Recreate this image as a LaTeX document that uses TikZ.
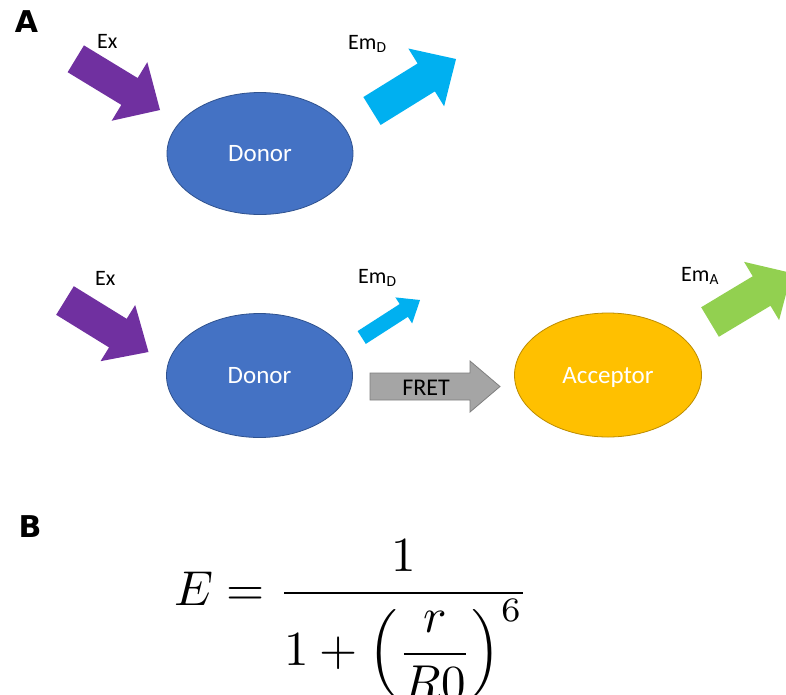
\documentclass[tikz,border=0pt]{standalone}
\usepackage{fontspec}
\usepackage{graphicx}
\setmainfont{Carlito}
\newfontfamily\labfont{DejaVu Sans}
\usetikzlibrary{calc,shapes.geometric}
\definecolor{donorblue}{HTML}{4472C4}
\definecolor{donorline}{HTML}{2F528F}
\definecolor{accyellow}{HTML}{FFC000}
\definecolor{accline}{HTML}{BC8C00}
\definecolor{expurple}{HTML}{7030A0}
\definecolor{emcyan}{HTML}{00B0F0}
\definecolor{emgreen}{HTML}{92D050}
\definecolor{fretgray}{HTML}{A5A5A5}
\definecolor{fretline}{HTML}{7F7F7F}
\newcommand\blockarrow[6]{%
  \path ($(#3)!#6!(#2)$) coordinate (#2-hb);
  \fill[#1] ($(#2)!#4!90:(#3)$) -- ($(#2-hb)!#4!90:(#3)$) -- ($(#2-hb)!#5!90:(#3)$) -- (#3)
    -- ($(#2-hb)!#5!-90:(#3)$) -- ($(#2-hb)!#4!-90:(#3)$) -- ($(#2)!#4!-90:(#3)$) -- cycle;}
\tikzset{
  molecule/.style={ellipse, inner sep=0pt, line width=0.8pt, text=white, text depth=0pt,
    font=\fontsize{25}{28}\selectfont},
  donorstyle/.style={molecule, fill=donorblue, draw=donorline},
  accstyle/.style={molecule, fill=accyellow, draw=accline},
  lbl/.style={anchor=base west, inner sep=0pt, font=\fontsize{22}{26}\selectfont},
  panel/.style={inner sep=0pt, font=\labfont\bfseries\fontsize{30}{32}\selectfont},
}
\begin{document}
\begin{tikzpicture}[x=1pt,y=-1pt]
\useasboundingbox (0,0) rectangle (786,694);
\clip (0,0) rectangle (786,694);
\fill[white] (0,0) rectangle (786,694);

% panel labels
\node[panel] (pa) at (26.5,21.5) {A};
\node[panel] (pb) at (30,526.5) {B};

% top row
\node[donorstyle, minimum width=186pt, minimum height=122pt] (d1) at (260,153.5) {Donor};
\coordinate (ex1) at (75.8,58.8);
\coordinate (ex1t) at (160,110);
\blockarrow{expurple}{ex1}{ex1t}{15.7pt}{34.3pt}{35.7pt}
\coordinate (em1) at (372,111);
\coordinate (em1t) at (456,59);
\blockarrow{emcyan}{em1}{em1t}{16.4pt}{34pt}{35pt}
\node[lbl] (lex1) at (97,48) {Ex};
\node[lbl] (lem1) at (348,49) {Em\textsubscript{D}};

% bottom row
\node[donorstyle, minimum width=186pt, minimum height=124pt] (d2) at (259.5,375.5) {Donor};
\node[accstyle, minimum width=187pt, minimum height=124pt] (acc) at (608,375) {Acceptor};
\coordinate (ex2) at (65,300.5);
\coordinate (ex2t) at (148.5,352);
\blockarrow{expurple}{ex2}{ex2t}{16.8pt}{33pt}{36pt}
\coordinate (em2) at (361.7,337.5);
\coordinate (em2t) at (420,300);
\blockarrow{emcyan}{em2}{em2t}{7.6pt}{15.5pt}{19.3pt}
\coordinate (ema) at (710,322);
\coordinate (emat) at (791.6,273);
\blockarrow{emgreen}{ema}{emat}{17.2pt}{34pt}{35pt}
\coordinate (fr) at (370,386.5);
\coordinate (frt) at (500,386.5);
\blockarrow{fretgray, draw=fretline, line width=0.8pt}{fr}{frt}{13.5pt}{25.5pt}{30pt}
\node[font=\fontsize{24}{26}\selectfont, inner sep=0pt] (fretl) at (426,388) {FRET};
\node[lbl] (lex2) at (95,285) {Ex};
\node[lbl] (lem2) at (358,283) {Em\textsubscript{D}};
\node[lbl] (lema) at (681,281) {Em\textsubscript{A}};

% equation
\node[anchor=base west, inner sep=0pt] (eq) at (174,605)
  {\scalebox{4.9}{$\displaystyle E=\frac{1}{1+\left({\displaystyle\frac{r}{R0}}\right)^{6}}$}};
\end{tikzpicture}
\end{document}
